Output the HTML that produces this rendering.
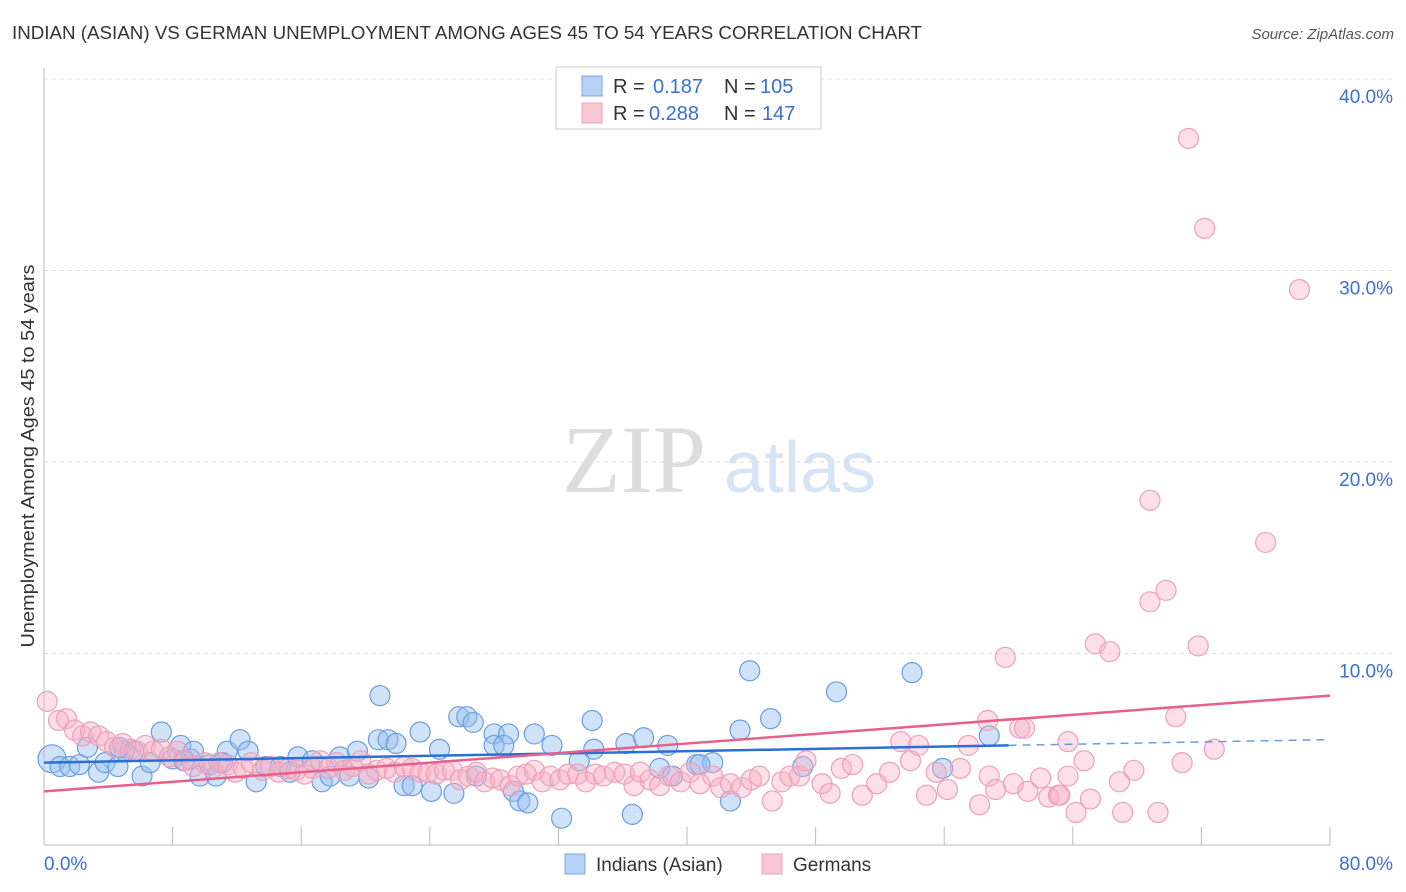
<!DOCTYPE html>
<html><head><meta charset="utf-8"><style>
body{margin:0;background:#fff;font-family:"Liberation Sans",sans-serif}
svg{display:block}
</style></head><body>
<svg id="c" width="1406" height="892" xmlns="http://www.w3.org/2000/svg">
<text x="12" y="39" font-size="18" fill="#333" textLength="910" lengthAdjust="spacingAndGlyphs">INDIAN (ASIAN) VS GERMAN UNEMPLOYMENT AMONG AGES 45 TO 54 YEARS CORRELATION CHART</text>
<text x="1394" y="39" font-size="15" fill="#555" font-style="italic" text-anchor="end">Source: ZipAtlas.com</text>
<text x="634" y="492" font-size="96" fill="#ddd" font-family="Liberation Serif" text-anchor="middle">ZIP</text>
<text x="800" y="492" font-size="72" fill="#d6e4f5" text-anchor="middle">atlas</text>
<text transform="translate(34,456) rotate(-90)" font-size="18" fill="#333" text-anchor="middle" textLength="383" lengthAdjust="spacingAndGlyphs">Unemployment Among Ages 45 to 54 years</text>
<g id="grid"></g><g id="marks"></g><g id="trend"></g>
<g>
<rect x="556" y="67" width="265" height="62" fill="#fff" stroke="#ccc"/>
<rect x="582" y="76" width="20" height="20" fill="#b8d2f5" stroke="#7aa6e0"/>
<rect x="582" y="103" width="20" height="20" fill="#f9c6d4" stroke="#eea0b8"/>
<text x="613" y="93" font-size="20" fill="#333">R =</text>
<text x="653" y="93" font-size="20" fill="#3a70d0">0.187</text>
<text x="724" y="93" font-size="20" fill="#333">N =</text>
<text x="760" y="93" font-size="20" fill="#3a70d0">105</text>
<text x="613" y="120" font-size="20" fill="#333">R =</text>
<text x="649" y="120" font-size="20" fill="#3a70d0">0.288</text>
<text x="724" y="120" font-size="20" fill="#333">N =</text>
<text x="762" y="120" font-size="20" fill="#3a70d0">147</text>
</g>
<g>
<rect x="565" y="854" width="20" height="20" fill="#b8d2f5" stroke="#7aa6e0"/>
<text x="596" y="871" font-size="19" fill="#333">Indians (Asian)</text>
<rect x="762" y="854" width="20" height="20" fill="#f9c6d4" stroke="#eea0b8"/>
<text x="793" y="871" font-size="19" fill="#333">Germans</text>
</g>
</svg>
<script>
const yTicks=[10,20,30,40];
const yTickLabels=["10.0%","20.0%","30.0%","40.0%"];
const xTicks=[0,8,16,24,32,40,48,56,64,72,80];
const xEndLabels=["0.0%","80.0%"];
const blueX=[0.5,1.0,1.6,2.2,2.7,3.4,3.8,4.6,5.0,6.1,6.6,7.3,8.5,9.1,9.7,10.3,10.7,11.4,12.2,12.7,13.2,13.8,14.7,15.3,15.8,16.7,17.3,17.8,18.4,19.0,19.5,20.2,20.8,20.9,21.4,21.9,22.4,22.9,23.4,24.1,24.6,25.5,25.8,26.3,26.7,26.9,28.0,28.0,28.9,28.6,29.2,29.6,30.1,30.5,31.6,32.2,33.3,34.1,34.2,36.2,36.6,37.3,38.3,38.8,39.1,40.6,41.6,40.8,42.7,43.3,43.9,45.2,47.2,49.3,54.0,55.9,58.8,11.1,4.7,5.6,8.0,8.7,9.3];
const blueY=[4.5,4.1,4.1,4.2,5.1,3.8,4.3,4.1,4.9,3.6,4.3,5.9,5.2,4.5,3.6,4.2,3.6,4.9,5.5,4.9,3.3,4.1,4.1,3.8,4.6,4.4,3.3,3.6,4.6,3.6,4.9,3.5,5.5,7.8,5.5,5.3,3.1,3.1,5.9,2.8,5.0,2.7,6.7,6.7,6.4,3.6,5.8,5.2,5.8,5.2,2.8,2.3,2.2,5.8,5.2,1.4,4.4,6.5,5.0,5.3,1.6,5.6,4.0,5.2,3.6,4.2,4.3,4.2,2.3,6.0,9.1,6.6,4.1,8.0,9.0,4.0,5.7,4.3,5.1,4.9,4.5,4.4,4.9];
const pinkX=[0.2,0.9,1.4,1.9,2.4,2.9,3.4,3.9,4.4,4.9,5.4,5.8,6.3,6.8,7.3,7.8,8.3,8.8,9.3,10.0,10.5,10.9,11.4,11.9,12.4,12.9,13.6,14.1,14.6,15.2,15.7,16.2,16.7,17.2,17.7,18.2,18.7,19.2,19.7,20.2,20.7,21.3,21.8,22.4,22.9,23.4,23.9,24.4,24.9,25.4,25.9,26.4,26.9,27.4,27.9,28.4,29.0,29.5,30.0,30.5,31.0,31.5,32.1,32.6,33.2,33.7,34.3,34.8,35.5,36.1,36.7,37.1,37.7,38.3,38.9,39.6,40.2,40.8,41.6,42.1,42.7,43.4,44.0,44.5,45.3,45.9,46.4,47.0,47.4,48.4,48.9,49.6,50.3,50.9,51.8,52.6,53.3,53.9,54.4,54.9,55.5,56.2,57.0,57.5,58.2,58.8,59.2,59.8,60.3,60.7,61.2,62.0,62.5,63.1,63.7,63.7,64.2,64.7,65.4,66.3,67.1,67.8,68.8,69.3,69.8,70.8,70.4,71.2,71.8,72.2,72.8,76.0,78.1,68.8,58.7,63.2,66.9,61.0,65.1];
const pinkY=[7.5,6.5,6.6,6.0,5.7,5.9,5.7,5.4,5.1,5.3,5.0,4.9,5.2,4.9,5.0,4.6,4.9,4.4,4.1,4.3,4.0,4.3,4.2,3.8,4.0,4.3,3.9,4.1,3.8,4.0,3.9,3.7,4.0,4.4,4.0,4.3,3.9,4.1,4.4,3.7,3.9,4.0,3.8,4.1,4.0,3.8,3.8,3.7,3.9,3.9,3.4,3.6,3.8,3.3,3.5,3.4,3.1,3.6,3.7,3.9,3.3,3.6,3.4,3.7,3.7,3.3,3.7,3.6,3.8,3.7,3.1,3.8,3.4,3.1,3.6,3.3,3.8,3.2,3.6,3.0,3.2,3.0,3.4,3.6,2.3,3.3,3.6,3.6,4.4,3.2,2.7,4.0,4.2,2.6,3.2,3.8,5.4,4.4,5.2,2.6,3.8,2.9,4.0,5.2,2.1,3.6,2.9,9.8,3.2,6.1,2.8,3.5,2.5,2.6,3.6,5.4,1.7,4.4,10.5,10.1,1.7,3.9,12.7,1.7,13.3,4.3,6.7,36.9,10.4,32.2,5.0,15.8,29.0,18.0,6.5,2.6,3.3,6.1,2.4];
const blueTrendX=[0,60,80], blueTrendY=[4.3,5.2,5.5];
const pinkTrendX=[0,80], pinkTrendY=[2.8,7.8];
const X0=44,X1=1330,Y0=845,Y40=79;
const sx=v=>X0+(X1-X0)*v/80, sy=v=>Y0-(Y0-Y40)*v/40;
const NS="http://www.w3.org/2000/svg";
function mk(tag,attrs,parent){const e=document.createElementNS(NS,tag);for(const k in attrs)e.setAttribute(k,attrs[k]);parent.appendChild(e);return e;}
const grid=document.getElementById('grid'),marks=document.getElementById('marks'),trend=document.getElementById('trend');
yTicks.forEach((t,i)=>{
 let l=mk('line',{x1:X0,x2:1392,y1:sy(t),y2:sy(t),stroke:'#ddd','stroke-dasharray':'4,4'},grid);
 
 
 let tx=mk('text',{x:1393,y:sy(t)+24,'font-size':19,fill:'#3a70d0','text-anchor':'end'},grid);
 tx.textContent=yTickLabels[i];
 
 
});
let ax=mk('line',{x1:X0,x2:X0,y1:68,y2:Y0,stroke:'#bbb'},grid);


let bx=mk('line',{x1:X0,x2:X1,y1:Y0,y2:Y0,stroke:'#bbb'},grid);


xTicks.forEach(t=>{
 let l=mk('line',{x1:sx(t),x2:sx(t),y1:Y0,y2:Y0-18,stroke:'#bbb'},grid);
 
 
});
[[0,'start',44],[80,'end',1393]].forEach((d,i)=>{
 let tx=mk('text',{x:d[2],y:870,'font-size':19,fill:'#3a70d0','text-anchor':d[1]},grid);
 tx.textContent=xEndLabels[i];
 
 
});
blueX.forEach((x,i)=>{
 let c=mk('circle',{cx:sx(x),cy:sy(blueY[i]),r:i==0?14:10,fill:'rgba(150,190,240,0.45)',stroke:'#6a9de0','stroke-width':1.2},marks);
 
 
});
pinkX.forEach((x,i)=>{
 let c=mk('circle',{cx:sx(x),cy:sy(pinkY[i]),r:10,fill:'rgba(248,175,198,0.4)',stroke:'#eea0b8','stroke-width':1.2},marks);
 
 
});
let b1=mk('line',{x1:sx(blueTrendX[0]),y1:sy(blueTrendY[0]),x2:sx(blueTrendX[1]),y2:sy(blueTrendY[1]),stroke:'#2a6fd6','stroke-width':2.5},trend);


let b2=mk('line',{x1:sx(blueTrendX[1]),y1:sy(blueTrendY[1]),x2:sx(blueTrendX[2]),y2:sy(blueTrendY[2]),stroke:'#6a9de0','stroke-width':1.5,'stroke-dasharray':'8,6'},trend);


let p1=mk('line',{x1:sx(pinkTrendX[0]),y1:sy(pinkTrendY[0]),x2:sx(pinkTrendX[1]),y2:sy(pinkTrendY[1]),stroke:'#e8608a','stroke-width':2.5},trend);


</script>
</body></html>
